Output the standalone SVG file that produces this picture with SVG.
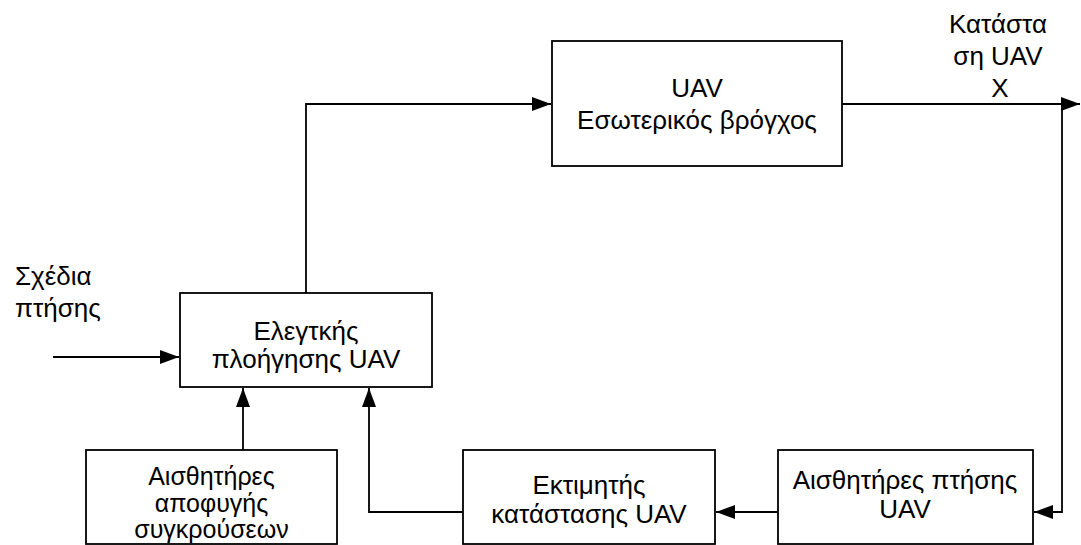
<svg xmlns="http://www.w3.org/2000/svg" width="1081" height="545" viewBox="0 0 1081 545">
<style>
.box{fill:#fff;stroke:#000;stroke-width:1.8}
.t{font-family:"Liberation Sans",Arial,sans-serif;font-size:26px;fill:#000;text-anchor:middle}
.s{font-size:25px}
.l{text-anchor:start}
.c{fill:none;stroke:#000;stroke-width:1.8}
</style>
<defs>
<marker id="ah" markerUnits="userSpaceOnUse" markerWidth="20" markerHeight="14" refX="19" refY="7" orient="auto">
<path d="M0,0 L19,7 L0,14 z" fill="#000"/>
</marker>
</defs>
<rect width="1081" height="545" fill="#fff"/>
<g id="connectors">
<polyline class="c" points="306,293 306,104 551,104" marker-end="url(#ah)"/>
<line class="c" x1="842" y1="104" x2="1080" y2="104" marker-end="url(#ah)"/>
<polyline class="c" points="1062,104 1062,512 1034,512" marker-end="url(#ah)"/>
<line class="c" x1="778" y1="512" x2="716" y2="512" marker-end="url(#ah)"/>
<polyline class="c" points="463,512 369,512 369,388" marker-end="url(#ah)"/>
<line class="c" x1="243" y1="450" x2="243" y2="388" marker-end="url(#ah)"/>
<line class="c" x1="53" y1="357" x2="179" y2="357" marker-end="url(#ah)"/>
</g>
<g id="inner-loop">
<rect class="box" x="552" y="41" width="290" height="125"/>
<text class="t" x="697" y="97">UAV</text>
<text class="t" x="697" y="129">Εσωτερικός βρόγχος</text>
</g>
<g id="nav-controller">
<rect class="box" x="180" y="293" width="252" height="94"/>
<text class="t" x="306" y="340">Ελεγτκής</text>
<text class="t" x="306" y="368">πλοήγησης UAV</text>
</g>
<g id="collision-sensors">
<rect class="box" x="86" y="450" width="251" height="94"/>
<text class="t s" x="211.5" y="485">Αισθητήρες</text>
<text class="t s" x="211.5" y="512">αποφυγής</text>
<text class="t s" x="211.5" y="538">συγκρούσεων</text>
</g>
<g id="state-estimator">
<rect class="box" x="463" y="450" width="252" height="94"/>
<text class="t" x="589" y="494">Εκτιμητής</text>
<text class="t" x="589" y="523">κατάστασης UAV</text>
</g>
<g id="flight-sensors">
<rect class="box" x="778" y="450" width="255" height="94"/>
<text class="t" x="905" y="489">Αισθητήρες πτήσης</text>
<text class="t" x="905" y="518">UAV</text>
</g>
<g id="flight-plans">
<text class="t l" x="15" y="285">Σχέδια</text>
<text class="t l" x="15" y="317">πτήσης</text>
</g>
<g id="uav-state">
<text class="t" x="998" y="33">Κατάστα</text>
<text class="t" x="998" y="65">ση UAV</text>
<text class="t" x="1000" y="97">X</text>
</g>
</svg>
